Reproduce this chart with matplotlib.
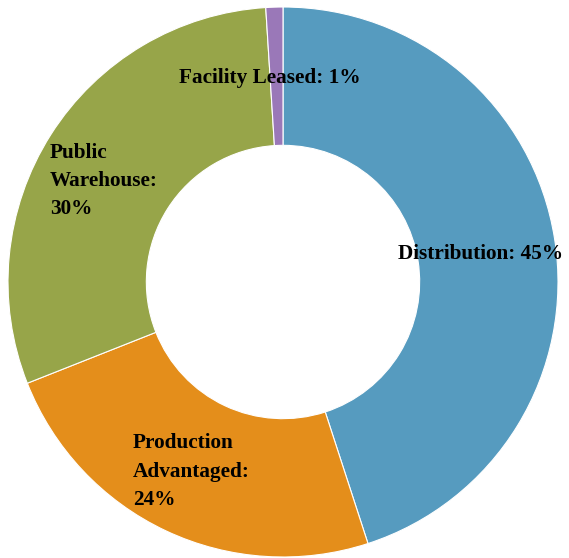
import matplotlib.pyplot as plt

categories = ["Distribution", "Production Advantaged", "Public Warehouse", "Facility Leased"]
shares = [45, 24, 30, 1]
colors = ["#569BBF", "#E48E1B", "#97A549", "#9A78B8"]
label_text = [
    "Distribution: {}%",
    "Production\nAdvantaged:\n{}%",
    "Public\nWarehouse:\n{}%",
    "Facility Leased: {}%",
]

# label anchor (x, y, ha) in axes data units, radius of the ring = 1
label_pos = [
    (0.72, 0.102, "center"),
    (-0.545, -0.69, "left"),
    (-0.847, 0.368, "left"),
    (-0.047, 0.742, "center"),
]

W, H = 569, 558
cx, cy, r = 283, 282, 275

fig = plt.figure(figsize=(W / 100, H / 100), dpi=100)
ax = fig.add_axes([0, 0, 1, 1])

ax.pie(shares, colors=colors, startangle=90, counterclock=False, radius=1,
       wedgeprops=dict(width=0.503, edgecolor="white", linewidth=0.8))

for fmt, val, (x, y, ha) in zip(label_text, shares, label_pos):
    ax.text(x, y, fmt.format(val), ha=ha, va="center", fontsize=15.3,
            fontweight="bold", family="Liberation Serif", linespacing=1.55)

ax.set_xlim(-cx / r, (W - cx) / r)
ax.set_ylim(-(H - cy) / r, cy / r)
ax.set_aspect("equal")
ax.axis("off")

fig.savefig("out.png", dpi=100)
